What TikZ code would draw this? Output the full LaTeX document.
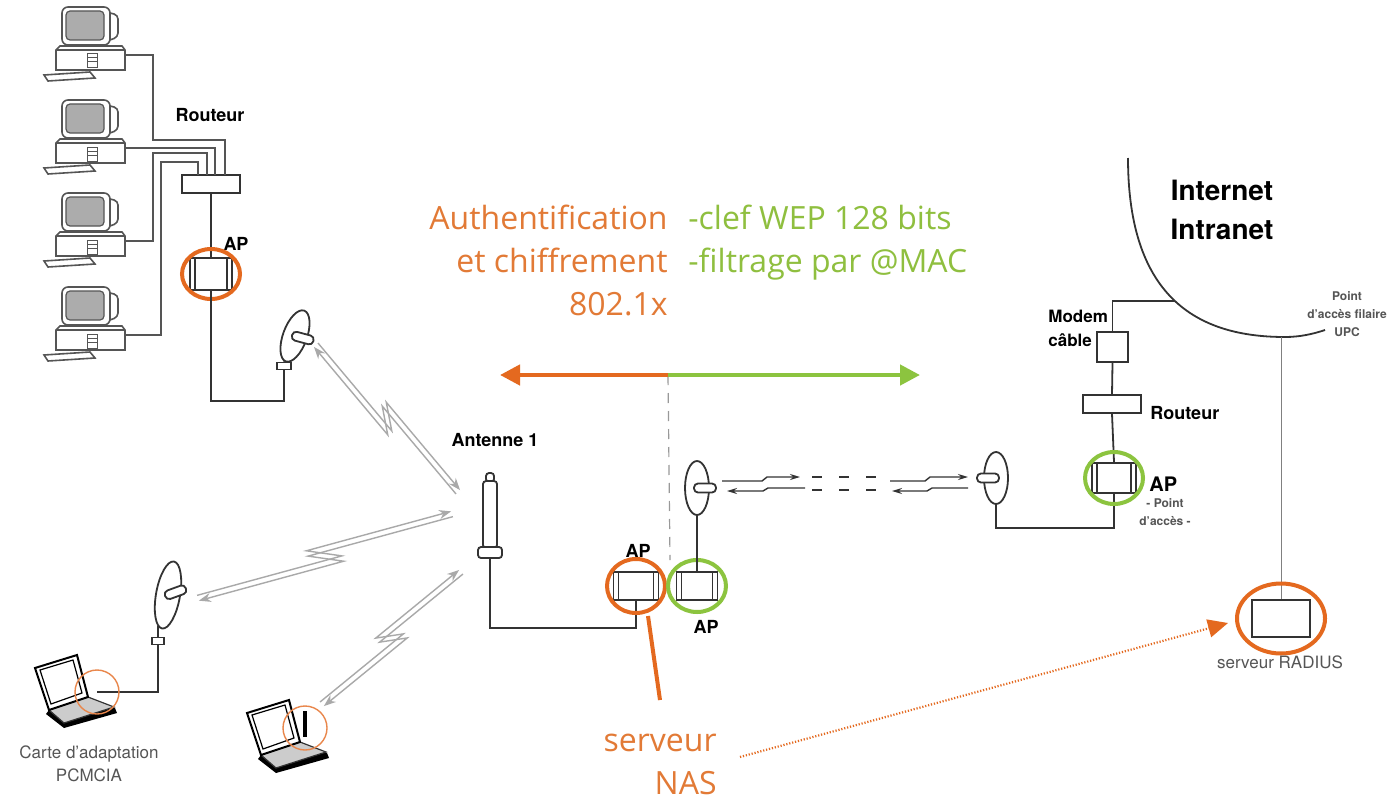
\documentclass[tikz,border=0pt]{standalone}
\usepackage{fontspec}
\setmainfont{TeX Gyre Heros}
\newfontfamily\slidefont{Open Sans}
\usetikzlibrary{arrows.meta,calc}

\definecolor{netorange}{HTML}{E4691F}
\definecolor{txtorange}{HTML}{E27A36}
\definecolor{netgreen}{HTML}{8CC43F}
\definecolor{txtgreen}{HTML}{8FBF3F}
\definecolor{ink}{HTML}{333333}
\definecolor{softink}{HTML}{555555}
\definecolor{wave}{HTML}{A9A9A9}

\tikzset{
  wire/.style={draw=ink, line width=0.9pt},
  devbox/.style={draw=ink, line width=0.9pt, fill=white, inner sep=0pt},
  apbox/.style={devbox, path picture={
     \draw[ink, line width=0.6pt]
       ([xshift=2.5pt]path picture bounding box.north west) -- ([xshift=2.5pt]path picture bounding box.south west)
       ([xshift=-2.5pt]path picture bounding box.north east) -- ([xshift=-2.5pt]path picture bounding box.south east);}},
  ringorange/.style={draw=netorange, line width=2pt},
  ringgreen/.style={draw=netgreen, line width=2pt},
  thinring/.style={draw=netorange!80, line width=0.7pt},
  tag/.style={inner sep=0pt, font=\bfseries\fontsize{9}{10}\selectfont},
  smalltag/.style={inner sep=0pt, text=softink, align=center, font=\bfseries\fontsize{6}{9}\selectfont},
  graytag/.style={inner sep=0pt, text=softink, font=\fontsize{8.5}{11.5}\selectfont, align=center},
  slidetext/.style={inner sep=0pt, font=\slidefont\fontsize{16}{21.5}\selectfont},
  wavelink/.style={draw=wave, line width=0.7pt},
  beam/.style={draw=ink, line width=0.7pt, -{Stealth[length=5pt,width=3pt]}},
  beamgap/.style={draw=ink, line width=0.7pt, dash pattern=on 5pt off 8.5pt},
}

% desktop computer with monitor, tower and keyboard, shifted down by #1
\newcommand{\pcunit}[1]{%
  \begin{scope}[shift={(0,#1)}]
    \draw[softink, line width=0.8pt, fill=white, rounded corners=2pt] (110,13) -- (118,15) -- (118,37) -- (110,40);
    \draw[softink, line width=0.8pt, fill=white, rounded corners=3pt] (62,7) rectangle (110,45);
    \draw[softink, line width=0.6pt, fill=gray!65, rounded corners=2pt] (66,11) rectangle (104,40);
    \draw[softink, line width=0.8pt, fill=white] (56,50) -- (60,46) -- (122,46) -- (125,50) -- (125,70) -- (56,70) -- cycle;
    \draw[softink, line width=0.6pt] (56,50) -- (125,50);
    \draw[softink, line width=0.5pt] (87,54) rectangle (97,68) (87,58) -- (97,58) (87,62) -- (97,62);
    \draw[softink, line width=0.8pt, fill=white] (44,75) -- (90,72) -- (95,78) -- (48,81) -- cycle;
  \end{scope}}

% laptop seen from the front left, lid corner at #1
\newcommand{\laptopunit}[1]{%
  \begin{scope}[shift={(#1)}]
    \fill[black] (14,42) -- (53,29) -- (80,40) -- (82,45) -- (29,60) -- (11,46) -- cycle;
    \draw[ink, line width=0.6pt, fill=gray!40] (14,42) -- (53,29) -- (79,39) -- (29,55) -- cycle;
    \draw[black, line width=1pt, fill=white] (0,0) -- (42,-13) -- (53,29) -- (14,42) -- cycle;
    \draw[black, line width=0.6pt] (5,2) -- (38,-8) -- (47,25) -- (16,36) -- cycle;
  \end{scope}}

% parabolic dish: centre #1 (x,y), tilt #2, feed angle #3, half height #4
\newcommand{\dishunit}[4]{%
  \draw[ink, line width=0.9pt, fill=white, rotate around={#2:(#1)}] (#1) ellipse [x radius=12, y radius=#4];
  \draw[ink, line width=0.9pt, fill=white, rounded corners=2pt, rotate around={#3:(#1)}]
    ($(#1)+(-3,-4.5)$) rectangle ($(#1)+(19,4.5)$);}

% two-way radio link drawn as a pair of zigzag rays
\newcommand{\radiolink}[2]{%
  \draw[wavelink, -{Stealth[length=6pt,width=4.5pt]}]
    ($(#1)!1.4pt!90:(#2)$) -- ($(#1)!0.56!(#2)!-2.6pt!90:(#2)$) -- ($(#1)!0.44!(#2)!5.4pt!90:(#2)$) -- ($(#2)!1.4pt!-90:(#1)$);
  \draw[wavelink, -{Stealth[length=6pt,width=4.5pt]}]
    ($(#2)!1.4pt!90:(#1)$) -- ($(#1)!0.44!(#2)!2.6pt!90:(#2)$) -- ($(#1)!0.56!(#2)!-5.4pt!90:(#2)$) -- ($(#1)!1.4pt!-90:(#2)$);}

\begin{document}
\begin{tikzpicture}[x=0.5pt,y=-0.5pt]
\useasboundingbox (0,0) rectangle (1395,808);
\fill[white] (0,0) rectangle (1395,808);

% ---------- wired LAN, top left ----------
\pcunit{0}
\pcunit{93}
\pcunit{186}
\pcunit{280}

\node[devbox, minimum width=29pt, minimum height=9pt] (rt1) at (211,184) {};
\node[apbox, minimum width=21pt, minimum height=16pt] (ap1) at (211,274) {};
\node[tag] (rt1lbl) at (210,115) {Routeur};
\node[tag] (ap1lbl) at (236,244) {AP};

\coordinate (pc1) at (125,55);
\coordinate (pc2) at (125,148);
\coordinate (pc3) at (125,241);
\coordinate (pc4) at (125,335);
\draw[wire, draw=softink] (pc1) -- (153,55) -- (153,140) -- (225,140) -- (225,175);
\draw[wire, draw=softink] (pc2) -- (215,148) -- (215,175);
\draw[wire, draw=softink] (pc3) -- (153,241) -- (153,153) -- (207,153) -- (207,175);
\draw[wire, draw=softink] (pc4) -- (161,335) -- (161,162) -- (198,162) -- (198,175);
\draw[wire] (rt1.south) -- (ap1.north);
\draw[ringorange] (ap1) ellipse [x radius=29, y radius=25];

% dish on the LAN side
\node[devbox, minimum width=7pt, minimum height=3.5pt] (d1mount) at (284,366) {};
\draw[wire] (285,356) -- (d1mount.north);
\dishunit{295,336}{-20}{-15}{27}
\coordinate (d1tip) at (316,345);
\draw[wire] (ap1.south) -- ++(0,110) -| (d1mount.south);

% ---------- antenna 1 and the access points ----------
\node[tag] (antlbl) at (495,440) {Antenne 1};
\draw[ink, line width=0.9pt, fill=white, rounded corners=1.5pt] (486,473) rectangle (494,482);
\draw[ink, line width=0.9pt, fill=white, rounded corners=1.5pt] (483,481) rectangle (497,548);
\draw[ink, line width=0.9pt, fill=white, rounded corners=1.5pt] (478,547) rectangle (502,558);
\coordinate (antbase) at (490,558);
\coordinate (antA) at (458,492);
\coordinate (antB) at (452,514);
\coordinate (antC) at (461,572);

\node[tag] (ap2lbl) at (638,551) {AP};
\node[apbox, minimum width=22.5pt, minimum height=14pt] (ap2) at (636,586) {};
\node[apbox, minimum width=20.5pt, minimum height=14pt] (ap3) at (697,586) {};
\node[tag] (ap3lbl) at (706,627) {AP};
\draw[wire] (antbase) -- ++(0,70) -| (ap2.south);
\draw[ringorange] (ap2) ellipse [x radius=29, y radius=27];
\draw[ringgreen] (ap3) ellipse [x radius=29, y radius=26];

% point-to-point dishes
\dishunit{697,488}{0}{0}{27}
\coordinate (d3bot) at (697,515);
\draw[wire] (d3bot) -- (ap3.north);
\dishunit{996,478}{0}{180}{26}
\coordinate (d4bot) at (996,504);
\coordinate (d3tip) at (722,481);
\coordinate (d4tip) at (972,481);

% bridge link between the two dishes
\draw[beam] (d3tip) -- (762,481) -- (767,477) -- (800,477);
\draw[beam] (805,488) -- (768,488) -- (763,491) -- (727,491);
\draw[beamgap] (812,477) -- (886,477);
\draw[beamgap] (812,490) -- (886,490);
\draw[beam] (890,481) -- (925,481) -- (930,477) -- (968,477);
\draw[beam] (968,488) -- (932,488) -- (927,491) -- (892,491);

% ---------- security policy split ----------
\node[slidetext, anchor=north east, align=right, text=txtorange] (authtxt) at (668,205)
  {Authentification\\et chiffrement\\802.1x};
\node[slidetext, anchor=north west, align=left, text=txtgreen] (weptxt) at (688,205)
  {-clef WEP 128 bits\\-filtrage par @MAC};
\coordinate (split) at (668,375);
\coordinate (leftend) at (500,375);
\coordinate (rightend) at (920,375);
\coordinate (dashend) at (670,560);
\draw[gray!80, line width=0.6pt, dash pattern=on 5pt off 4pt] (split) -- (dashend);
\draw[netorange, line width=2.2pt, -{Triangle[length=10pt,width=10pt]}] (split) -- (leftend);
\draw[netgreen, line width=2.2pt, -{Triangle[length=10pt,width=10pt]}] (split) -- (rightend);

% ---------- Internet side ----------
\node[inner sep=0pt, font=\bfseries\fontsize{14}{17}\selectfont] (inet) at (1222,190) {Internet};
\node[inner sep=0pt, font=\bfseries\fontsize{14}{17}\selectfont] (intra) at (1222,229) {Intranet};
\coordinate (arctop) at (1128,158);
\coordinate (arcbottom) at (1285,337);
\coordinate (arcend) at (1325,330);
\coordinate (arcjoin) at (1175,301);
\draw[ink, line width=0.9pt] (arctop) .. controls (1128,300) and (1200,337) .. (arcbottom)
  .. controls (1300,337) and (1313,334) .. (arcend);
\node[smalltag] (upclbl) at (1347,314) {Point\\d'accès filaire\\UPC};

\node[devbox, minimum width=15.5pt, minimum height=15pt] (modem) at (1112.5,347) {};
\node[inner sep=0pt, anchor=west, font=\bfseries\fontsize{8.5}{10}\selectfont] (modemlbl) at (1048,316) {Modem};
\node[inner sep=0pt, anchor=west, font=\bfseries\fontsize{8.5}{10}\selectfont] (cablelbl) at (1048,340) {câble};
\node[devbox, minimum width=29pt, minimum height=9pt] (rt2) at (1112,404) {};
\node[tag, anchor=west] (rt2lbl) at (1150,413) {Routeur};
\node[apbox, minimum width=22pt, minimum height=15pt] (ap4) at (1114,478) {};
\node[inner sep=0pt, anchor=west, font=\bfseries\fontsize{10}{11}\selectfont] (ap4lbl) at (1149,484) {AP};
\node[smalltag] (ap4sub) at (1165,512) {- Point\\d'accès -};

\draw[wire] (modem.north) |- (arcjoin);
\draw[wire] (modem.south) -- (rt2.north);
\draw[wire] (rt2.south) -- (ap4.north);
\draw[wire] (d4bot) -- ++(0,24) -| (ap4.south);
\draw[ringgreen] (ap4) ellipse [x radius=29, y radius=26];

% RADIUS server
\node[devbox, minimum width=29pt, minimum height=18.5pt] (radius) at (1281,618.5) {};
\coordinate (radiustap) at (1281,337);
\draw[gray, line width=0.5pt] (radiustap) -- (radius.north);
\draw[ringorange] (radius) ellipse [x radius=44, y radius=35];
\node[graytag] (radiuslbl) at (1280,662) {serveur RADIUS};

% ---------- NAS annotation ----------
\coordinate (nastop) at (648,616);
\coordinate (nasbot) at (660,700);
\draw[netorange, line width=2pt] (nastop) -- (nasbot);
\node[slidetext, anchor=north east, align=right, text=txtorange] (nastxt) at (717,734) {serveur\\NAS};
\coordinate (nasfrom) at (740,757);
\coordinate (radiusto) at (1228,623);
\draw[netorange, line width=1.1pt, dash pattern=on 0.6pt off 0.9pt,
      -{Triangle[length=10pt,width=9pt,sep=0pt]}] (nasfrom) -- (radiusto);

% ---------- wireless clients, bottom left ----------
\laptopunit{35,668}
\coordinate (lap1port) at (97,692);
\node[devbox, minimum width=6pt, minimum height=3.5pt] (d2mount) at (158,641) {};
\draw[wire] (158,626) -- (d2mount.north);
\dishunit{168,595}{-10}{20}{34}
\coordinate (d2tip) at (198,598);
\draw[wire] (lap1port) -| (d2mount.south);
\draw[thinring] (lap1port) circle [radius=22];
\node[graytag] (cartelbl) at (89,764) {Carte d'adaptation\\PCMCIA};

\laptopunit{247,713}
\draw[black, line width=2pt] (305,711) -- (305,737);
\coordinate (lap2ant) at (305,728);
\draw[thinring] (lap2ant) circle [radius=22];
\coordinate (lap2tip) at (322,704);

% radio links towards antenna 1
\radiolink{d1tip}{antA}
\radiolink{d2tip}{antB}
\radiolink{lap2tip}{antC}
\end{tikzpicture}
\end{document}
